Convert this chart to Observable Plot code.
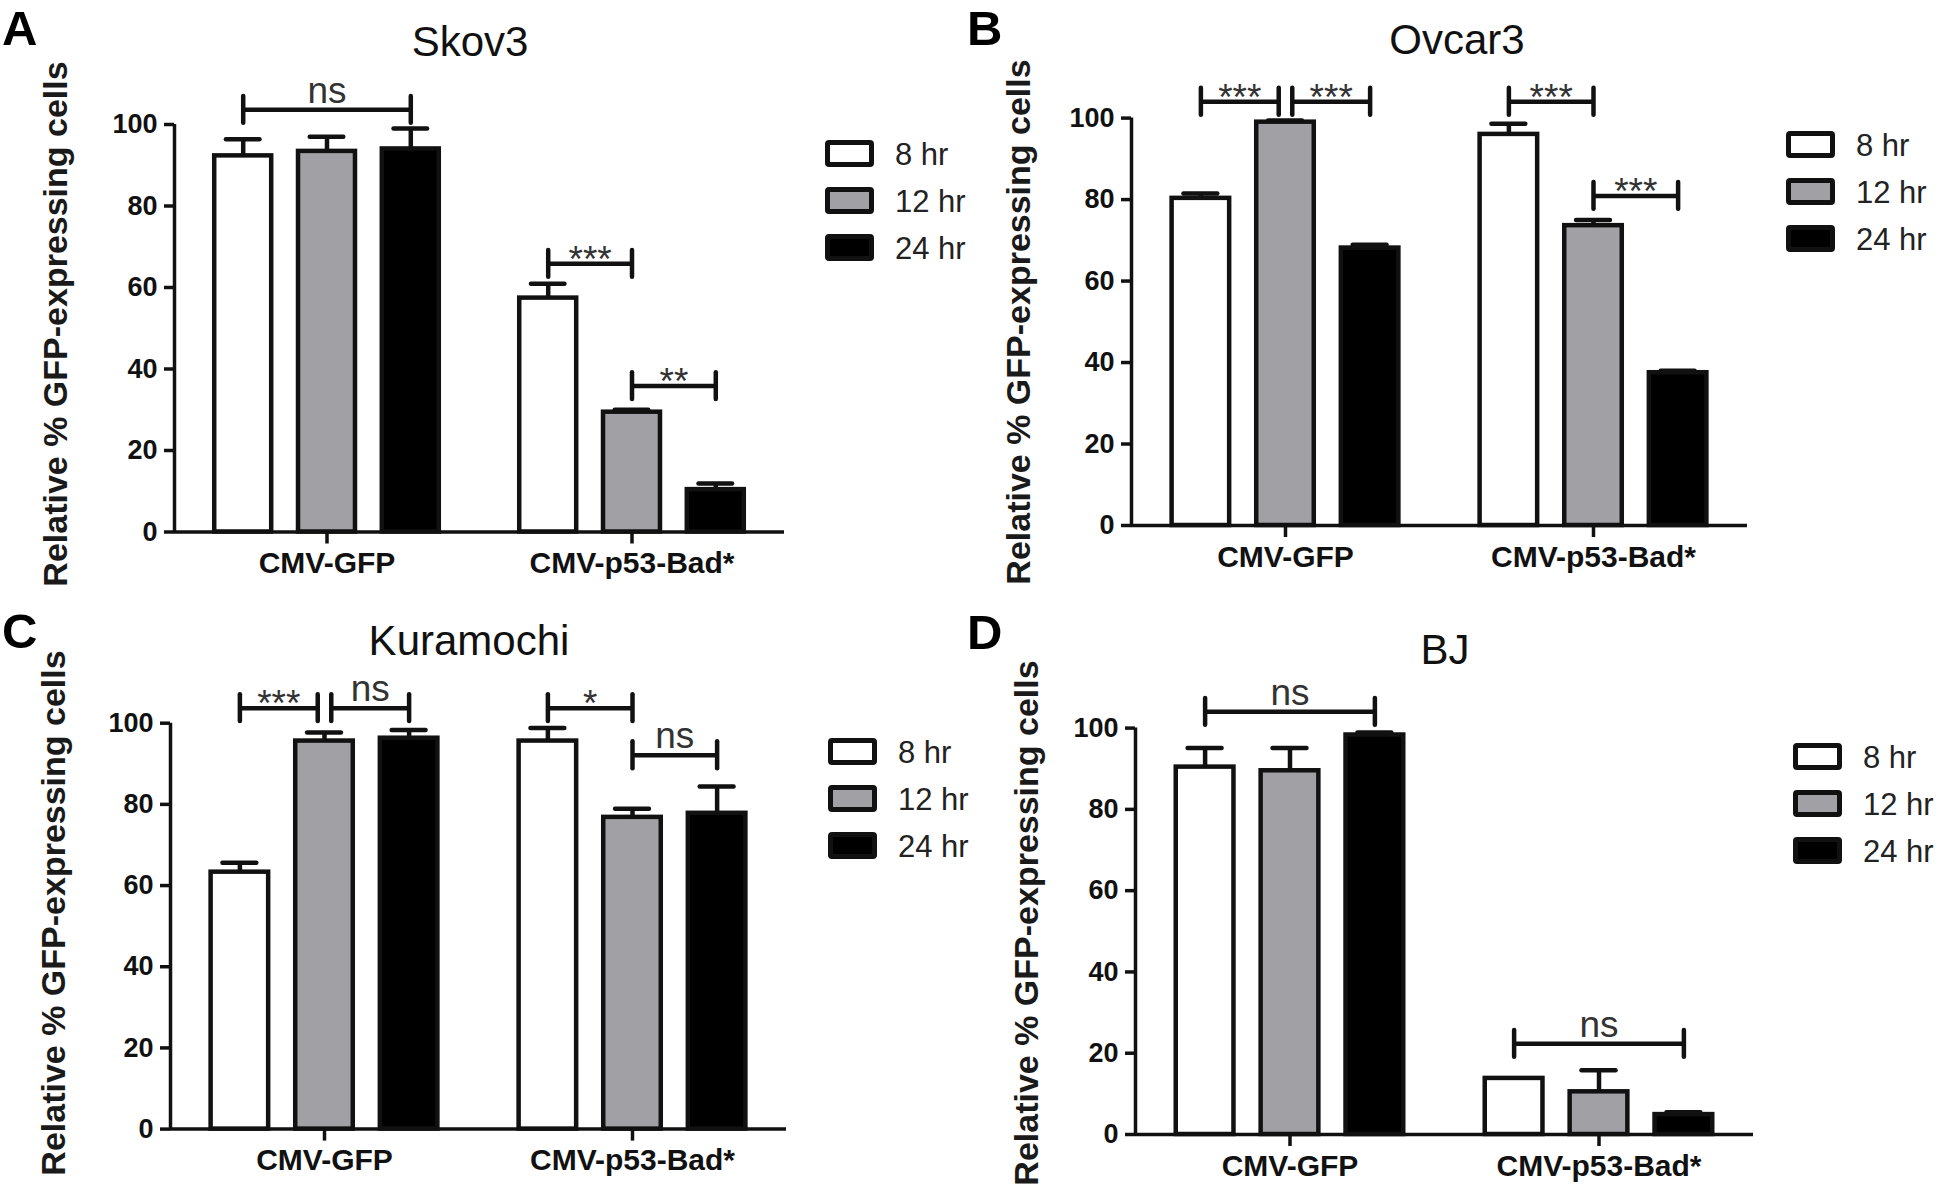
<!DOCTYPE html>
<html>
<head>
<meta charset="utf-8">
<script src="https://cdn.jsdelivr.net/npm/d3@7"></script>
<script src="https://cdn.jsdelivr.net/npm/@observablehq/plot@0.6"></script>
<style>
  body { margin: 0; background: #fff; }
  #fig { position: relative; width: 1946px; height: 1192px; overflow: hidden;
         font-family: "Liberation Sans", Arial, sans-serif; color: #111; }
  .panel { position: absolute; }
  .abs { position: absolute; white-space: nowrap; line-height: 1; }
  .ctr { transform: translate(-50%, -50%); }
  .letter { position: absolute; white-space: nowrap; line-height: normal; font-weight: bold; font-size: 49px; color: #000; }
  .title { font-size: 42px; color: #111; }
  .ylab { font-weight: bold; font-size: 34px; color: #1a1a1a; transform: translate(-50%, -50%) rotate(-90deg); }
  .sw { position: absolute; width: 49px; height: 27px; box-sizing: border-box;
        border: 5px solid #111; border-radius: 4px; }
  .lt { position: absolute; font-size: 31px; color: #222; line-height: 1; white-space: nowrap; }
</style>
</head>
<body>
<div id="fig"></div>
<script>
// ---------- data ----------
const groups = ["CMV-GFP", "CMV-p53-Bad*"];
const times = ["8 hr", "12 hr", "24 hr"];
const timeFills = ["#ffffff", "#a1a1a5", "#000000"];
const yTicks = [0, 20, 40, 60, 80, 100];
const yLabel = "Relative % GFP-expressing cells";

// order: CMV-GFP 8/12/24 hr, then CMV-p53-Bad* 8/12/24 hr
const skov3Means  = [92.3, 93.4, 94.0, 57.4, 29.4, 10.4];
const skov3Errors = [4.1, 3.6, 5.0, 3.5, 0.6, 1.5];
const skov3Sig = [
  {group: "CMV-GFP", from: "8 hr", to: "24 hr", y: 103.6, label: "ns"},
  {group: "CMV-p53-Bad*", from: "8 hr", to: "12 hr", y: 65.8, label: "***"},
  {group: "CMV-p53-Bad*", from: "12 hr", to: "24 hr", y: 35.8, label: "**"}
];

const ovcar3Means  = [80.3, 99.0, 68.1, 96.0, 73.6, 37.5];
const ovcar3Errors = [1.2, 0.4, 0.8, 2.6, 1.4, 0.5];
const ovcar3Sig = [
  {group: "CMV-GFP", from: "8 hr", to: "12 hr", y: 104.0, label: "***"},
  {group: "CMV-GFP", from: "12 hr", to: "24 hr", y: 104.0, label: "***"},
  {group: "CMV-p53-Bad*", from: "8 hr", to: "12 hr", y: 104.0, label: "***"},
  {group: "CMV-p53-Bad*", from: "12 hr", to: "24 hr", y: 80.9, label: "***"}
];

const kuramochiMeans  = [63.3, 95.6, 96.3, 95.6, 76.8, 77.8];
const kuramochiErrors = [2.3, 2.1, 2.0, 3.2, 2.1, 6.6];
const kuramochiSig = [
  {group: "CMV-GFP", from: "8 hr", to: "12 hr", y: 103.7, label: "***"},
  {group: "CMV-GFP", from: "12 hr", to: "24 hr", y: 103.7, label: "ns"},
  {group: "CMV-p53-Bad*", from: "8 hr", to: "12 hr", y: 103.7, label: "*"},
  {group: "CMV-p53-Bad*", from: "12 hr", to: "24 hr", y: 92.1, label: "ns"}
];

const bjMeans  = [90.4, 89.5, 98.3, 13.8, 10.5, 4.9];
const bjErrors = [4.7, 5.6, 0.6, 0, 5.3, 0.6];
const bjSig = [
  {group: "CMV-GFP", from: "8 hr", to: "24 hr", y: 104.0, label: "ns"},
  {group: "CMV-p53-Bad*", from: "8 hr", to: "24 hr", y: 22.3, label: "ns"}
];

// ---------- layout (page geometry, not data) ----------
const panels = [
  {letter: "A", title: "Skov3", means: skov3Means, errors: skov3Errors, sig: skov3Sig,
   left: 0, top: 0, mL: 174, mR: 189, mT: 124, mB: 64.5,
   letterAt: [2, 0], titleAt: [470, 42], ylabAt: [55, 324], legendAt: [825, 140]},
  {letter: "B", title: "Ovcar3", means: ovcar3Means, errors: ovcar3Errors, sig: ovcar3Sig,
   left: 973, top: 0, mL: 158, mR: 199, mT: 117.6, mB: 71,
   letterAt: [967, 0], titleAt: [1457, 40], ylabAt: [1018, 322], legendAt: [1786, 131]},
  {letter: "C", title: "Kuramochi", means: kuramochiMeans, errors: kuramochiErrors, sig: kuramochiSig,
   left: 0, top: 596, mL: 170, mR: 187, mT: 126.7, mB: 63.4,
   letterAt: [2, 603], titleAt: [469, 641], ylabAt: [53, 913], legendAt: [828, 738]},
  {letter: "D", title: "BJ", means: bjMeans, errors: bjErrors, sig: bjSig,
   left: 973, top: 596, mL: 161, mR: 193, mT: 131.6, mB: 58,
   letterAt: [967, 604], titleAt: [1445, 650], ylabAt: [1026, 923], legendAt: [1793, 743]}
];

const ink = "#111";
const xDomain = [-0.82, 2.82];
const barHalf = 0.34;
const capHalf = 0.2;
const bracketCap = 3.3;
const nudge = 0.08;

function makePlot(p) {
  const rows = [];
  groups.forEach((g, gi) => times.forEach((t, ti) =>
    rows.push({group: g, time: t, ti, mean: p.means[gi * 3 + ti], err: p.errors[gi * 3 + ti]})));
  const withErr = rows.filter(d => d.err > 0);
  const idx = t => times.indexOf(t);
  const sig = p.sig.map(s => ({...s, x1: idx(s.from), x2: idx(s.to)}));
  sig.forEach(s => sig.forEach(o => {
    if (o !== s && o.group === s.group && o.y === s.y) {
      if (o.from === s.to) s.x2 -= nudge;
      if (o.to === s.from) s.x1 += nudge;
    }
  }));
  const ends = sig.flatMap(s => [{group: s.group, x: s.x1, y: s.y}, {group: s.group, x: s.x2, y: s.y}]);
  const isStars = s => /^\*+$/.test(s.label);

  return Plot.plot({
    width: 973, height: 596,
    marginLeft: p.mL, marginRight: p.mR, marginTop: p.mT, marginBottom: p.mB,
    style: {fontFamily: "Liberation Sans, Arial, sans-serif", color: "#111", background: "transparent", overflow: "visible"},
    fx: {domain: groups, padding: 0, label: null},
    x: {domain: xDomain, axis: null},
    y: {domain: [0, 100], label: null},
    color: {domain: times, range: timeFills},
    marks: [
      Plot.rect(rows, {fx: "group", x1: d => d.ti - barHalf, x2: d => d.ti + barHalf, y1: 0, y2: "mean",
        fill: "time", stroke: ink, strokeWidth: 4.5}),
      Plot.ruleX(withErr, {fx: "group", x: "ti", y1: "mean", y2: d => d.mean + d.err, stroke: ink, strokeWidth: 4.5}),
      Plot.ruleY(withErr, {fx: "group", y: d => d.mean + d.err, x1: d => d.ti - capHalf, x2: d => d.ti + capHalf,
        stroke: ink, strokeWidth: 4.5, strokeLinecap: "round"}),
      Plot.ruleY([0], {stroke: ink, strokeWidth: 3.5}),
      Plot.ruleX([{group: groups[0]}], {fx: "group", x: () => xDomain[0], y1: 0, y2: 100, stroke: ink, strokeWidth: 3.5}),
      Plot.axisY({ticks: yTicks, tickSize: 10, tickPadding: 7, fontSize: 27, fontWeight: "bold", strokeWidth: 3.5, label: null}),
      Plot.axisFx({anchor: "bottom", tickSize: 12, tickPadding: 8, fontSize: 30, fontWeight: "bold", strokeWidth: 3.5, label: null}),
      Plot.ruleY(sig, {fx: "group", y: "y", x1: "x1", x2: "x2", stroke: ink, strokeWidth: 4.5}),
      Plot.ruleX(ends, {fx: "group", x: "x", y1: d => d.y - bracketCap, y2: d => d.y + bracketCap,
        stroke: ink, strokeWidth: 4.5, strokeLinecap: "round"}),
      Plot.text(sig.filter(s => !isStars(s)), {fx: "group", x: d => (d.x1 + d.x2) / 2, y: "y", text: "label",
        lineAnchor: "bottom", dy: -7, fontSize: 37, fill: "#333"}),
      Plot.text(sig.filter(isStars), {fx: "group", x: d => (d.x1 + d.x2) / 2, y: "y", text: "label",
        lineAnchor: "middle", dy: -4, fontSize: 37, fill: "#333"})
    ]
  });
}

const fig = document.getElementById("fig");
function addDiv(cls, text, x, y) {
  const el = document.createElement("div");
  el.className = cls;
  el.textContent = text;
  el.style.left = x + "px";
  el.style.top = y + "px";
  fig.appendChild(el);
  return el;
}

for (const p of panels) {
  const wrap = document.createElement("div");
  wrap.className = "panel";
  wrap.style.left = p.left + "px";
  wrap.style.top = p.top + "px";
  wrap.appendChild(makePlot(p));
  fig.appendChild(wrap);

  addDiv("letter", p.letter, p.letterAt[0], p.letterAt[1]);
  addDiv("abs ctr title", p.title, p.titleAt[0], p.titleAt[1]);
  addDiv("abs ylab", yLabel, p.ylabAt[0], p.ylabAt[1]);
  times.forEach((t, i) => {
    const sw = document.createElement("div");
    sw.className = "sw";
    sw.style.left = p.legendAt[0] + "px";
    sw.style.top = (p.legendAt[1] + i * 47) + "px";
    sw.style.background = timeFills[i];
    fig.appendChild(sw);
    const lt = addDiv("lt", t, p.legendAt[0] + 70, p.legendAt[1] + i * 47 + 13.5);
    lt.style.transform = "translateY(-50%)";
  });
}
</script>
</body>
</html>
